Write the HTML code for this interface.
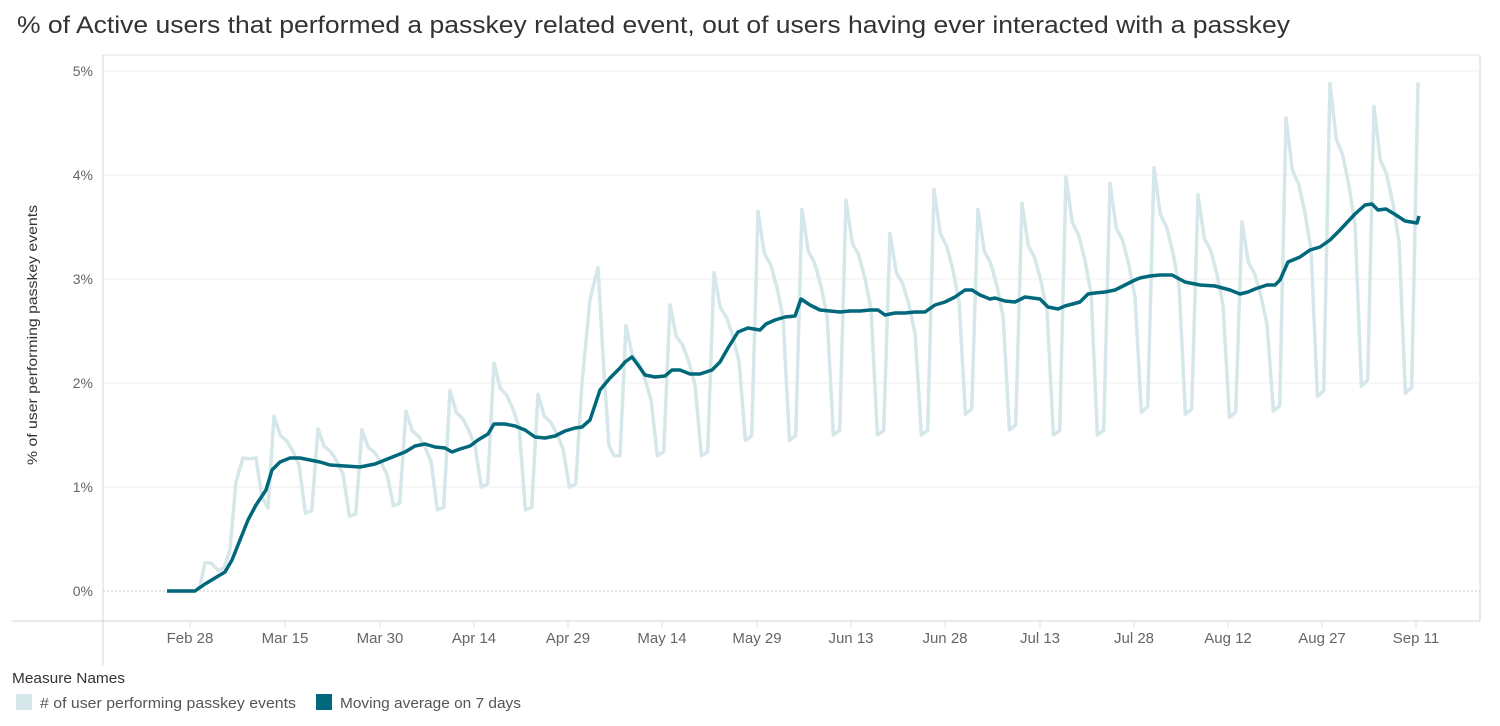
<!DOCTYPE html>
<html><head><meta charset="utf-8"><style>
body{margin:0;background:#fff;width:1500px;height:721px;overflow:hidden;font-family:"Liberation Sans",sans-serif}
</style></head><body>
<svg id="s" width="1500" height="721" xmlns="http://www.w3.org/2000/svg" font-family="Liberation Sans, sans-serif">
<text x="17" y="33" font-size="24" fill="#333" textLength="1273" lengthAdjust="spacingAndGlyphs">% of Active users that performed a passkey related event, out of users having ever interacted with a passkey</text>
<line x1="103" y1="55" x2="1480" y2="55" stroke="#e6e6e6"/>
<line x1="1480" y1="55" x2="1480" y2="621" stroke="#d4d4d4"/>
<line x1="103" y1="55" x2="103" y2="665" stroke="#d4d4d4"/>
<line x1="12" y1="621" x2="1480" y2="621" stroke="#d4d4d4"/>
<g stroke="#efefef" stroke-width="1">
<line x1="103" y1="71" x2="1480" y2="71"/><line x1="103" y1="175" x2="1480" y2="175"/>
<line x1="103" y1="279" x2="1480" y2="279"/><line x1="103" y1="383" x2="1480" y2="383"/>
<line x1="103" y1="487" x2="1480" y2="487"/>
</g>
<line x1="103" y1="591" x2="1480" y2="591" stroke="#c8c8c8" stroke-dasharray="2,2"/>
<g font-size="14" fill="#666" text-anchor="end">
<text x="93" y="76">5%</text><text x="93" y="180">4%</text><text x="93" y="284">3%</text>
<text x="93" y="388">2%</text><text x="93" y="492">1%</text><text x="93" y="596">0%</text>
</g>
<text transform="translate(37,335) rotate(-90)" font-size="14" fill="#333" text-anchor="middle" textLength="260" lengthAdjust="spacingAndGlyphs">% of user performing passkey events</text>
<g id="ticks" stroke="#e0e0e0"></g>
<g font-size="15" fill="#666" text-anchor="middle">
<text x="190" y="643">Feb 28</text><text x="285" y="643">Mar 15</text><text x="380" y="643">Mar 30</text>
<text x="474" y="643">Apr 14</text><text x="568" y="643">Apr 29</text><text x="662" y="643">May 14</text>
<text x="757" y="643">May 29</text><text x="851" y="643">Jun 13</text><text x="945" y="643">Jun 28</text>
<text x="1040" y="643">Jul 13</text><text x="1134" y="643">Jul 28</text><text x="1228" y="643">Aug 12</text>
<text x="1322" y="643">Aug 27</text><text x="1416" y="643">Sep 11</text>
</g>
<polyline id="raw" fill="none" stroke="#d6e7ea" stroke-width="3.5" stroke-linejoin="round"/>
<polyline id="ma" fill="none" stroke="#00687a" stroke-width="3.5" stroke-linejoin="round" points="167,591 195,591 205,584 215,578 225,572 232,560 240,540 248,520 256,505 266,490 272,470 280,462 290,458 300,458 310,460 320,462 330,465 345,466 360,467 375,464 385,460 395,456 405,452 415,446 425,444 435,447 445,448 452,452 460,449 470,446 478,440 488,434 494,424 505,424 515,426 525,430 535,437 545,438 555,436 565,431 575,428 582,427 590,420 600,390 610,378 620,368 625,362 632,357 638,365 645,375 655,377 665,376 672,370 680,370 690,374 700,374 712,370 720,362 728,348 738,332 748,328 760,330 766,324 775,320 785,317 795,316 801,299 810,305 820,310 830,311 840,312 850,311 860,311 870,310 878,310 885,315 895,313 905,313 915,312 925,312 935,305 945,302 955,297 965,290 972,290 980,295 990,299 995,298 1005,301 1015,302 1025,297 1040,299 1048,307 1058,309 1065,306 1080,302 1088,294 1095,293 1105,292 1115,290 1125,285 1135,280 1140,278 1150,276 1160,275 1172,275 1185,282 1200,285 1215,286 1230,290 1240,294 1248,292 1255,289 1267,285 1275,285 1280,280 1288,262 1300,257 1310,250 1320,247 1330,240 1340,230 1355,214 1365,205 1372,204 1378,210 1386,209 1396,215 1405,221 1417,223 1419,216"/>
<text x="12" y="683" font-size="15" fill="#333" textLength="113" lengthAdjust="spacingAndGlyphs">Measure Names</text>
<rect x="16" y="694" width="16" height="16" fill="#d6e7ea"/>
<text x="40" y="708" font-size="15" fill="#555" textLength="256" lengthAdjust="spacingAndGlyphs"># of user performing passkey events</text>
<rect x="316" y="694" width="16" height="16" fill="#00687a"/>
<text x="340" y="708" font-size="15" fill="#555" textLength="181" lengthAdjust="spacingAndGlyphs">Moving average on 7 days</text>
</svg>
<script>
var ticks=document.getElementById('ticks'),h='';
[190,285,380,474,568,662,757,851,945,1040,1134,1228,1322,1416].forEach(function(x){h+='<line x1="'+x+'" y1="621" x2="'+x+'" y2="628"/>';});
ticks.innerHTML=h;
function Y(v){return 591-v*104;}
var pts=[[167,0],[195,0],[200,0.05],[205,0.27],[211,0.27],[218,0.2],[224,0.22],[230,0.4],[236,1.05],[243,1.28],[249,1.27],[256,1.28],[262,0.9],[268,0.8]];
var w=[[1.68,0.75],[1.56,0.72],[1.55,0.82],[1.73,0.78],[1.93,1.0],[2.19,0.78],[1.89,1.0],[3.11,1.3],[2.55,1.3],[2.75,1.3],[3.06,1.45],[3.65,1.45],[3.67,1.5],[3.76,1.5],[3.44,1.5],[3.86,1.7],[3.67,1.55],[3.73,1.5],[3.98,1.5],[3.92,1.72],[4.07,1.7],[3.81,1.67],[3.55,1.73],[4.55,1.87],[4.88,1.97],[4.66,1.9]];
var r=[1,.89,.86,.8,.72];
for(var k=0;k<w.length;k++){
 var x0=274+44*k,P=w[k][0],L=w[k][1];
 if(k==7){pts.push([x0,2.0],[x0+8,2.8],[x0+16,3.11],[x0+22,2.1],[x0+27,1.4],[x0+32,1.3]);pts.push([x0+38,1.3]);continue;}
 for(var d=0;d<5;d++)pts.push([x0+d*6.286,P*r[d]]);
 pts.push([x0+5*6.286,L],[x0+6*6.286,L*1.03]);
}
pts.push([1418,4.89]);
document.getElementById('raw').setAttribute('points',pts.map(function(p){return p[0].toFixed(1)+','+Y(p[1]).toFixed(1);}).join(' '));
</script>
</body></html>
